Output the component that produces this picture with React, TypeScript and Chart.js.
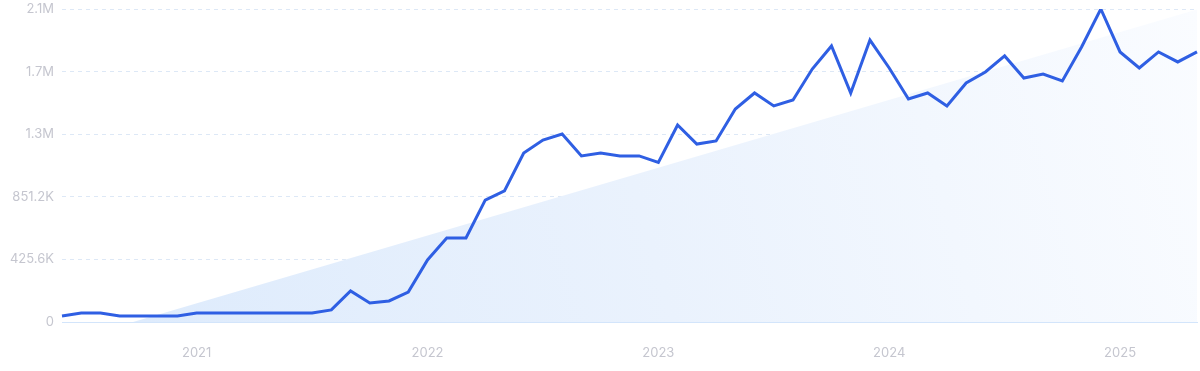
import React, { useEffect, useRef } from "react";
import { Chart, registerables } from "chart.js";

Chart.register(...registerables);

const months: string[] = [
  "2020-06", "2020-07", "2020-08", "2020-09", "2020-10", "2020-11", "2020-12",
  "2021-01", "2021-02", "2021-03", "2021-04", "2021-05", "2021-06", "2021-07", "2021-08", "2021-09", "2021-10", "2021-11", "2021-12",
  "2022-01", "2022-02", "2022-03", "2022-04", "2022-05", "2022-06", "2022-07", "2022-08", "2022-09", "2022-10", "2022-11", "2022-12",
  "2023-01", "2023-02", "2023-03", "2023-04", "2023-05", "2023-06", "2023-07", "2023-08", "2023-09", "2023-10", "2023-11", "2023-12",
  "2024-01", "2024-02", "2024-03", "2024-04", "2024-05", "2024-06", "2024-07", "2024-08", "2024-09", "2024-10", "2024-11", "2024-12",
  "2025-01", "2025-02", "2025-03", "2025-04", "2025-05",
];

const searches: number[] = [
  41000, 61000, 61000, 41000, 41000, 41000, 41000,
  61000, 61000, 61000, 61000, 61000, 61000, 61000, 82000, 211000, 129000, 143000, 204000,
  422000, 571000, 571000, 829000, 891000, 1149000, 1237000, 1278000, 1129000, 1149000, 1129000, 1129000,
  1085000, 1339000, 1210000, 1231000, 1448000, 1557000, 1469000, 1509000, 1720000, 1877000, 1557000, 1917000,
  1727000, 1516000, 1557000, 1469000, 1625000, 1700000, 1809000, 1659000, 1686000, 1639000, 1870000, 2128000,
  1836000, 1727000, 1836000, 1768000, 1836000,
];

// Trend line endpoints (first and last month); the rest is a straight span.
const trendStart = -142000;
const trendEnd = 2125000;

const yTickValues: number[] = [0, 425600, 851200, 1276800, 1702400, 2128000];
const yTickLabels: string[] = ["0", "425.6K", "851.2K", "1.3M", "1.7M", "2.1M"];

const trend: (number | null)[] = months.map((_, i) =>
  i === 0 ? trendStart : i === months.length - 1 ? trendEnd : null
);

export default function App() {
  const ref = useRef<HTMLCanvasElement | null>(null);

  useEffect(() => {
    if (!ref.current) return;
    const chart = new Chart(ref.current, {
      type: "line",
      data: {
        labels: months,
        datasets: [
          {
            data: searches,
            borderColor: "#2f5fe3",
            borderWidth: 3,
            pointRadius: 0,
            tension: 0,
            fill: false,
            order: 0,
          },
          {
            data: trend,
            spanGaps: true,
            borderWidth: 0,
            borderColor: "rgba(0,0,0,0)",
            pointRadius: 0,
            tension: 0,
            fill: "origin",
            order: 1,
            backgroundColor: (ctx: any) => {
              const area = ctx.chart.chartArea;
              if (!area) return "#e6f0fc";
              const g = ctx.chart.ctx.createLinearGradient(area.left, area.bottom, area.right, area.top);
              g.addColorStop(0, "#dceafc");
              g.addColorStop(0.5, "#eaf2fd");
              g.addColorStop(1, "#fafcff");
              return g;
            },
          },
        ],
      },
      options: {
        animation: false,
        responsive: false,
        maintainAspectRatio: false,
        layout: { padding: { top: 9, right: 3, left: 0, bottom: 0 } },
        plugins: {
          legend: { display: false },
          tooltip: { enabled: false },
        },
        scales: {
          x: {
            offset: false,
            grid: { display: false, drawTicks: false },
            border: { display: true, color: "#d3e5fb", width: 1 },
            ticks: {
              autoSkip: false,
              maxRotation: 0,
              padding: 23,
              color: "#c5c6cf",
              font: { family: "Inter", size: 13 },
              callback: (_v: any, i: number) => {
                const m = months[i];
                return m && m.endsWith("-01") ? m.slice(0, 4) : null;
              },
            },
            afterFit: (s: any) => {
              s.height = 49;
              s.paddingLeft = 0;
              s.paddingRight = 0;
            },
          },
          y: {
            min: 0,
            max: 2128000,
            afterBuildTicks: (s: any) => {
              s.ticks = yTickValues.map((v) => ({ value: v }));
            },
            grid: {
              drawTicks: false,
              color: (c: any) => (c.tick && c.tick.value === 0 ? "rgba(0,0,0,0)" : "#dde8f6"),
              lineWidth: 1,
            },
            border: { display: false, dash: [4, 4] },
            ticks: {
              padding: 8,
              color: "#c5c6cf",
              font: { family: "Inter", size: 13 },
              callback: (_v: any, i: number) => yTickLabels[i],
            },
            afterFit: (s: any) => {
              s.width = 62;
              s.paddingTop = 0;
              s.paddingBottom = 0;
            },
          },
        },
      },
    });
    return () => chart.destroy();
  }, []);

  return (
    <div style={{ position: "absolute", left: 0, top: 0, width: 1200, height: 371, background: "#fff" }}>
      <canvas ref={ref} width={1200} height={371} />
    </div>
  );
}
